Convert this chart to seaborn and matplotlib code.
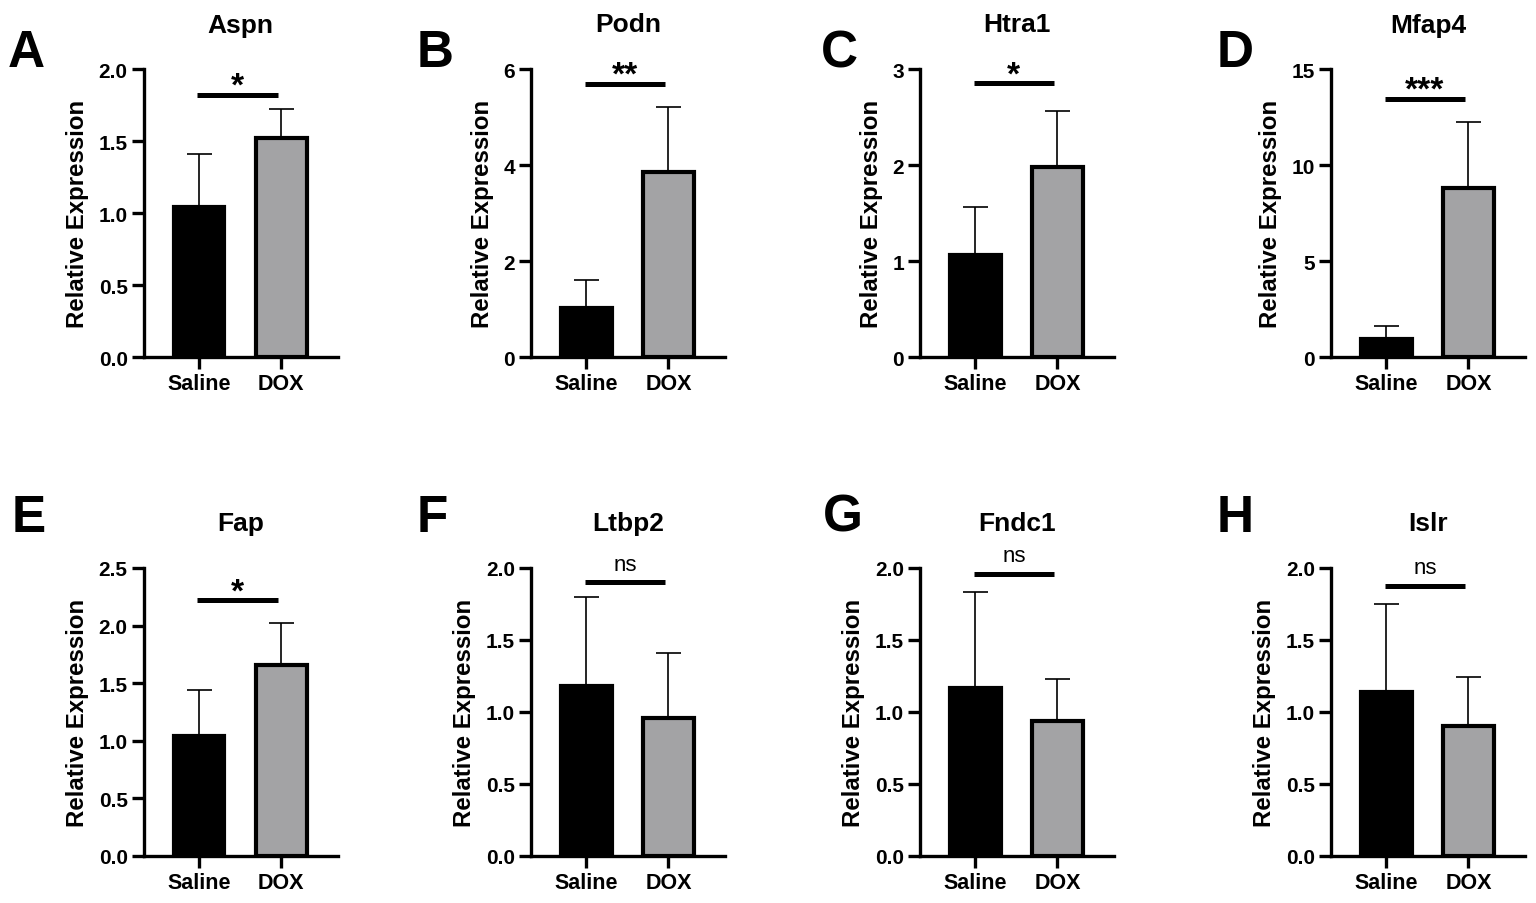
import matplotlib
matplotlib.use("Agg")
import matplotlib.pyplot as plt
import seaborn as sns

# values (mean and upper SD per group)
genes = ["Aspn", "Podn", "Htra1", "Mfap4", "Fap", "Ltbp2", "Fndc1", "Islr"]
panel_letters = ["A", "B", "C", "D", "E", "F", "G", "H"]
groups = ["Saline", "DOX"]
saline_mean = [1.04, 1.02, 1.06, 0.92, 1.04, 1.18, 1.17, 1.14]
saline_sd = [0.37, 0.58, 0.50, 0.68, 0.40, 0.62, 0.66, 0.61]
dox_mean = [1.52, 3.86, 1.98, 8.79, 1.66, 0.96, 0.94, 0.90]
dox_sd = [0.20, 1.35, 0.58, 3.45, 0.36, 0.45, 0.29, 0.34]
sig_labels = ["*", "**", "*", "***", "*", "ns", "ns", "ns"]
sig_level = [1.82, 5.69, 2.85, 13.45, 2.22, 1.90, 1.96, 1.875]
y_max = [2.0, 6, 3, 15, 2.5, 2.0, 2.0, 2.0]
y_step = [0.5, 2, 1, 5, 0.5, 0.5, 0.5, 0.5]

sns.set_style("ticks")
plt.rcParams["font.family"] = ["Liberation Sans", "DejaVu Sans"]
plt.rcParams["font.weight"] = "bold"
for key in ["text.color", "axes.labelcolor", "xtick.color", "ytick.color",
            "axes.edgecolor"]:
    plt.rcParams[key] = "black"

W, H = 1536, 904
fig = plt.figure(figsize=(W / 100, H / 100), dpi=100)

col_left = [143.7, 531, 920, 1331]
row_top = [70, 569]
ax_w, ax_h = 194, 288
letter_pos = [(8, 67), (417, 67), (821, 67), (1217, 67),
              (12, 532), (417, 532), (823, 532), (1217, 532)]

for i, gene in enumerate(genes):
    r, c = divmod(i, 4)
    left = col_left[c] / W
    bottom = 1 - (row_top[r] + ax_h) / H
    ax = fig.add_axes([left, bottom, ax_w / W, ax_h / H])

    means = [saline_mean[i], dox_mean[i]]
    sds = [saline_sd[i], dox_sd[i]]

    # upper-only SD bars, drawn under the bars
    ax.errorbar([0, 1], means, yerr=[[0, 0], sds], fmt="none",
                ecolor="black", elinewidth=1.2, capsize=9, capthick=1.2,
                zorder=1)
    sns.barplot(x=groups, y=means, hue=groups,
                palette=["black", "#a2a2a6"], legend=False,
                width=0.62, edgecolor="black", linewidth=3,
                ax=ax, zorder=2)

    ax.set_xlim(-0.674, 1.69)
    ax.set_ylim(0, y_max[i])
    n_ticks = int(round(y_max[i] / y_step[i])) + 1
    ticks = [k * y_step[i] for k in range(n_ticks)]
    ax.set_yticks(ticks)
    if y_step[i] < 1:
        ax.set_yticklabels([f"{t:.1f}" for t in ticks])
    else:
        ax.set_yticklabels([f"{t:g}" for t in ticks])

    sns.despine(ax=ax)
    for side in ["left", "bottom"]:
        ax.spines[side].set_linewidth(2.4)
        ax.spines[side].set_color("black")
    ax.tick_params(axis="both", width=2.4, length=8.5, color="black")
    ax.tick_params(axis="y", labelsize=15, pad=3)
    ax.tick_params(axis="x", labelsize=15.5, pad=3)
    for lab in ax.get_xticklabels() + ax.get_yticklabels():
        lab.set_fontweight("bold")

    ax.set_xlabel("")
    ax.set_ylabel("Relative Expression", fontsize=17.3, fontweight="bold",
                  labelpad=7)
    ax.set_title(gene, fontsize=19, fontweight="bold", pad=27)

    # significance bracket
    y_sig = sig_level[i]
    ax.plot([-0.02, 0.96], [y_sig, y_sig], color="black", lw=3.6,
            solid_capstyle="butt", clip_on=False, zorder=3)
    if sig_labels[i] == "ns":
        ax.annotate("ns", xy=(0.47, y_sig), xytext=(0, 9),
                    textcoords="offset points", ha="center", va="baseline",
                    fontsize=16, fontweight="normal", annotation_clip=False)
    else:
        ax.annotate(sig_labels[i], xy=(0.47, y_sig), xytext=(0, 0),
                    textcoords="offset points", ha="center", va="baseline",
                    fontsize=24, fontweight="bold", annotation_clip=False)

    lx, ly = letter_pos[i]
    fig.text(lx / W, 1 - ly / H, panel_letters[i], fontsize=37,
             fontweight="bold", ha="left", va="baseline")

fig.savefig("out.png", dpi=100, facecolor="white")
